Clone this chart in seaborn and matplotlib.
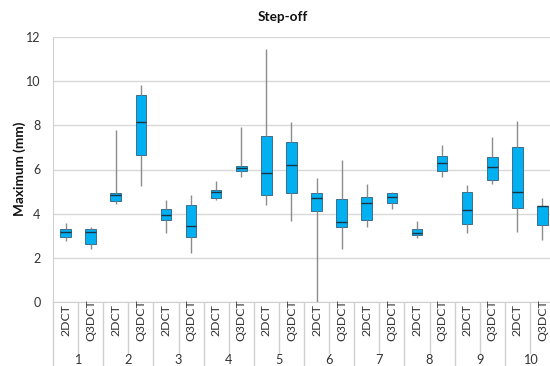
import numpy as np
import pandas as pd
import matplotlib
matplotlib.use("Agg")
import matplotlib.pyplot as plt
import matplotlib.transforms as mtransforms
import seaborn as sns

# Category structure
groups = ["1", "2", "3", "4", "5", "6", "7", "8", "9", "10"]
methods = ["2DCT", "Q3DCT"]

# Five-number summaries per box (group 1 2DCT, group 1 Q3DCT, group 2 2DCT, ...)
whisker_low = [2.77, 2.39, 4.44, 5.24, 3.11, 2.23, 4.62, 5.68, 4.39, 3.68,
               0.00, 2.38, 3.41, 4.21, 2.89, 5.67, 3.11, 5.32, 3.15, 2.80]
q1 = [2.92, 2.61, 4.55, 6.68, 3.73, 2.95, 4.70, 5.95, 4.83, 4.95,
      4.12, 3.38, 3.73, 4.47, 3.02, 5.94, 3.52, 5.52, 4.24, 3.47]
median = [3.17, 3.16, 4.85, 8.14, 3.94, 3.44, 4.97, 6.06, 5.85, 6.20,
          4.70, 3.61, 4.47, 4.73, 3.14, 6.29, 4.15, 6.11, 4.97, 4.33]
q3 = [3.29, 3.31, 4.94, 9.38, 4.20, 4.38, 5.09, 6.15, 7.50, 7.26,
      4.95, 4.65, 4.73, 4.94, 3.29, 6.61, 5.00, 6.55, 7.03, 4.36]
whisker_high = [3.59, 3.41, 7.80, 9.85, 4.62, 4.85, 5.50, 7.94, 11.48, 8.14,
                5.61, 6.41, 5.33, 4.97, 3.67, 7.12, 5.30, 7.47, 8.21, 4.71]

y_ticks = [0, 2, 4, 6, 8, 10, 12]

# Build long-form table: five points per box reproduce min/q1/median/q3/max exactly
slots = [f"{g} {m}" for g in groups for m in methods]
rows = []
for i, s in enumerate(slots):
    for v in (whisker_low[i], q1[i], median[i], q3[i], whisker_high[i]):
        rows.append({"slot": s, "value": v})
df = pd.DataFrame(rows)

sns.set_style("white")
plt.rcParams["font.family"] = ["Lato", "DejaVu Sans"]

W, H = 550, 366
fig = plt.figure(figsize=(W / 100, H / 100), dpi=100)
ax_left, ax_bottom, ax_w, ax_h = 53, 64.3, 502, 264.4
ax = fig.add_axes([ax_left / W, ax_bottom / H, ax_w / W, ax_h / H])

box_color = "#00B0F0"
whisker_color = "#8C8C8C"
sns.boxplot(
    data=df, x="slot", y="value", order=slots, ax=ax,
    whis=(0, 100), showfliers=False, showcaps=False,
    width=0.42, color=box_color, saturation=1, linewidth=0.8,
    boxprops=dict(facecolor=box_color, edgecolor="#3C6E8C", linewidth=0.7),
    whiskerprops=dict(color=whisker_color, linewidth=1.0),
    medianprops=dict(color="#1A3446", linewidth=1.0),
)

ax.set_xlim(-0.5, len(slots) - 0.5)
ax.set_ylim(0, 12)
ax.set_yticks(y_ticks)
ax.set_yticklabels([str(t) for t in y_ticks])
ax.yaxis.grid(True, color="#D9D9D9", linewidth=1.0)
ax.set_axisbelow(True)
for side in ("top", "right"):
    ax.spines[side].set_visible(False)
ax.spines["left"].set_color("#D0D0D0")
ax.spines["bottom"].set_color("#D0D0D0")
ax.tick_params(axis="y", length=5, width=1, color="#D0D0D0", pad=4,
               labelsize=9, labelcolor="#333333")
ax.tick_params(axis="x", length=0, labelbottom=False)
ax.set_xlabel("")
ax.set_ylabel("")

trans = mtransforms.blended_transform_factory(ax.transData, ax.transAxes)
px = 1.0 / ax_h  # one pixel in axes-fraction units (vertical)

# Two-level category labels and separators
for i, s in enumerate(slots):
    ax.text(i, -(320 - 301.7) * px, methods[i % 2], transform=trans,
            rotation=90, ha="center", va="center", fontsize=8.8, color="#333333")
for k, g in enumerate(groups):
    ax.text(2 * k + 0.5, -(360.5 - 301.7) * px, g, transform=trans,
            ha="center", va="center", fontsize=9.2, color="#333333")
for b in range(len(slots) + 1):
    xb = b - 0.5
    depth = 66 if b % 2 == 0 else 51.3
    ax.plot([xb, xb], [0, -depth * px], transform=trans, color="#D0D0D0",
            linewidth=1.0, clip_on=False)

fig.text(283 / W, 1 - 17 / H, "Step-off", ha="center", va="center",
         fontsize=9.8, fontweight="bold", color="#111111")
fig.text(20 / W, 1 - 169 / H, "Maximum (mm)", rotation=90, ha="center",
         va="center", fontsize=9.8, fontweight="bold", color="#111111")

fig.savefig("out.png", dpi=100)
